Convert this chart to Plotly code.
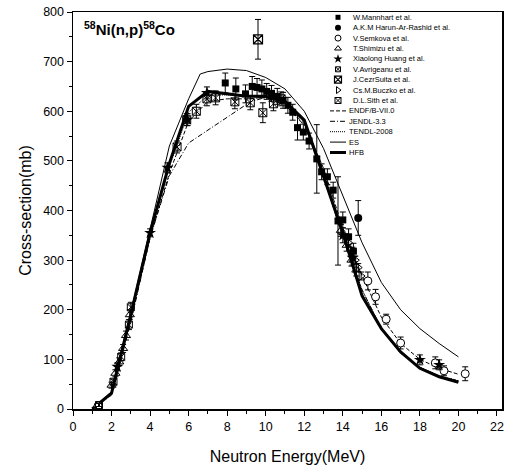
import plotly.graph_objects as go

# ---------------- data ----------------
# evaluated / calculated curves
E_grid = [1, 2, 3, 4, 5, 6, 7, 8, 9, 10, 11, 12, 13, 14, 15, 16, 17, 18, 19, 20]
HFB = [0, 32, 190, 355, 495, 610, 640, 635, 630, 630, 620, 582, 470, 355, 228, 162, 115, 82, 65, 54]
TENDL = [0, 33, 188, 352, 488, 598, 632, 633, 630, 628, 616, 578, 478, 352, 240, 163, 114, 84, 67, 57]
ENDF = [0, 30, 180, 345, 475, 580, 620, 625, 625, 628, 612, 575, 485, 365, 268, 185, 132, 100, 82, 70]
ES_E = [1, 2, 3, 4, 5, 6, 6.6, 7, 8, 9, 10, 11, 12, 13, 14, 15, 16, 17, 18, 19, 20]
ES = [0, 35, 195, 360, 530, 625, 675, 680, 685, 682, 668, 645, 600, 525, 430, 335, 255, 200, 162, 132, 105]
JENDL_E = [1, 2, 3, 4, 5, 6, 9.2, 10, 11, 12, 13, 14, 15, 16, 17, 18, 19, 20]
JENDL = [0, 28, 175, 345, 470, 536, 619, 628, 612, 572, 470, 345, 240, 162, 112, 84, 66, 57]

# experimental data
mann_E = [7.9, 8.45, 8.95, 9.3, 9.55, 9.8, 10.05, 10.3, 10.6, 10.9, 11.15, 11.4, 11.65,
          11.95, 12.25, 12.65, 12.9, 13.2, 13.5, 13.75, 14.0, 14.3, 14.55]
mann_s = [657, 645, 635, 650, 648, 645, 640, 636, 630, 622, 612, 598, 567,
          558, 540, 504, 478, 468, 441, 379, 381, 347, 318]
mann_e = [20, 22, 18, 20, 18, 18, 16, 16, 16, 16, 16, 16, 25,
          16, 16, 69, 16, 16, 16, 89, 16, 16, 16]

harun_E = [14.8]
harun_s = [385]
harun_e = [35]

semk_E = [1.3, 15.3, 15.7, 16.25, 17.0, 18.8, 19.25, 20.35]
semk_s = [6, 258, 226, 181, 133, 93, 77, 71]
semk_e = [5, 18, 15, 10, 12, 12, 10, 14]

shim_E = [2.0, 2.2, 2.4, 2.6, 2.75, 2.95, 13.9, 14.2, 14.45, 14.7]
shim_s = [48, 72, 95, 122, 148, 190, 360, 330, 300, 280]
shim_e = [6, 7, 8, 8, 9, 10, 12, 12, 12, 12]

huang_E = [2.3, 4.0, 4.9, 5.95, 6.95, 14.0, 14.5, 18.0, 19.0]
huang_s = [85, 355, 486, 583, 637, 350, 305, 99, 89]
huang_e = [8, 8, 10, 12, 12, 15, 15, 10, 10]

avri_E = [1.35, 2.1, 2.5, 2.9, 3.0]
avri_s = [8, 55, 105, 170, 205]
avri_e = [3, 5, 8, 10, 10]

cezr_E = [9.6]
cezr_s = [745]
cezr_e = [40]

bucz_E = [14.3, 14.5, 14.65, 14.8, 14.95]
bucz_s = [335, 318, 300, 285, 268]
bucz_e = [8, 8, 8, 8, 8]

sith_E = [5.4, 5.9, 6.4, 6.95, 7.4, 8.4, 9.2, 9.85, 10.4, 10.8]
sith_s = [528, 583, 600, 625, 627, 619, 617, 597, 615, 625]
sith_e = [12, 12, 14, 14, 14, 14, 14, 20, 14, 14]

legend_names = ["W.Mannhart et al.", "A.K.M Harun-Ar-Rashid et al.", "V.Semkova et al.",
                "T.Shimizu et al.", "Xiaolong Huang et al.", "V.Avrigeanu et al.",
                "J.CezrSuita et al.", "Cs.M.Buczko et al.", "D.L.Sith et al.",
                "ENDF/B-VII.0", "JENDL-3.3", "TENDL-2008", "ES", "HFB"]

FONT = "Liberation Sans, Arial, sans-serif"
NARROW = "Liberation Sans Narrow, Arial Narrow, Liberation Sans, Arial, sans-serif"

fig = go.Figure()

# ---------------- curves ----------------
curves = [
    (E_grid, ENDF, dict(color="black", width=1, dash="4px,2px")),
    (JENDL_E, JENDL, dict(color="black", width=1, dash="5px,2px,1px,2px")),
    (E_grid, TENDL, dict(color="black", width=1, dash="1px,1px")),
    (ES_E, ES, dict(color="black", width=1)),
    (E_grid, HFB, dict(color="black", width=3)),
]
for ex, ey, ln in curves:
    fig.add_trace(go.Scatter(x=ex, y=ey, mode="lines", line=ln, showlegend=False,
                             hoverinfo="skip"))

# ---------------- experiments ----------------
exps = [
    (mann_E, mann_s, mann_e, dict(symbol="square", size=7, color="black")),
    (harun_E, harun_s, harun_e, dict(symbol="circle", size=8, color="black")),
    (semk_E, semk_s, semk_e, dict(symbol="circle", size=8, color="white",
                                  line=dict(color="black", width=1))),
    (shim_E, shim_s, shim_e, dict(symbol="triangle-up-open", size=8, color="black",
                                  line=dict(width=1))),
    (huang_E, huang_s, huang_e, dict(symbol="star", size=9, color="black")),
    (avri_E, avri_s, avri_e, dict(symbol="square-x-open", size=7, color="black",
                                  line=dict(width=1))),
    (cezr_E, cezr_s, cezr_e, dict(symbol="square-x-open", size=9, color="black",
                                  line=dict(width=1.2))),
    (bucz_E, bucz_s, bucz_e, dict(symbol="triangle-right-open", size=8, color="black",
                                  line=dict(width=1))),
    (sith_E, sith_s, sith_e, dict(symbol="square-x-open", size=8, color="black",
                                  line=dict(width=1))),
]
for ex, ey, ee, mk in exps:
    fig.add_trace(go.Scatter(
        x=ex, y=ey, mode="markers", marker=mk, showlegend=False,
        error_y=dict(type="data", array=ee, color="black", thickness=1, width=3),
    ))

# ---------------- page geometry (page pixels) ----------------
W, H = 506, 469
PL, PR, PT, PB = 73, 502, 12, 409          # plot area in page pixels

# ---------------- manual legend (overlay axis in page pixels) ----------------
leg_y0, leg_dy = 17.3, 10.4
for i, name in enumerate(legend_names):
    yy = leg_y0 + i * leg_dy
    if i < len(exps):
        mk = dict(exps[i][3])
        mk["size"] = max(mk["size"] - 2, 5)
        fig.add_trace(go.Scatter(x=[338], y=[yy], mode="markers", marker=mk,
                                 xaxis="x2", yaxis="y2", showlegend=False,
                                 hoverinfo="skip"))
        tx = 351
    else:
        ln = curves[i - len(exps)][2]
        fig.add_trace(go.Scatter(x=[330, 346], y=[yy, yy], mode="lines", line=ln,
                                 xaxis="x2", yaxis="y2", showlegend=False,
                                 hoverinfo="skip"))
        tx = 347
    fig.add_annotation(x=tx, y=yy, xref="x2", yref="y2", text=name, showarrow=False,
                       xanchor="left", yanchor="middle",
                       font=dict(family=NARROW, size=7.5, color="black"))

# reaction label
fig.add_annotation(x=82, y=28, xref="x2", yref="y2",
                   text="<b><sup>58</sup>Ni(n,p)<sup>58</sup>Co</b>", showarrow=False,
                   xanchor="left", yanchor="middle",
                   font=dict(family=FONT, size=15, color="black"))

fig.update_layout(
    width=W, height=H,
    margin=dict(l=PL, r=W - PR, t=PT, b=H - PB),
    paper_bgcolor="white", plot_bgcolor="white",
    font=dict(family=FONT, color="black"),
    showlegend=False,
    xaxis=dict(
        range=[0, 22.26], tickmode="array", tickvals=list(range(0, 23, 2)),
        ticks="outside", ticklen=5, tickwidth=1, tickcolor="black",
        minor=dict(dtick=1, ticks="outside", ticklen=3, tickcolor="black", tickwidth=1),
        showline=True, linecolor="black", linewidth=1.5, mirror=True,
        showgrid=False, zeroline=False, tickfont=dict(size=12.5, family=FONT),
        ticklabeloverflow="allow",
        title=dict(text="Neutron Energy(MeV)", font=dict(size=16, family=FONT), standoff=18),
        automargin=False,
    ),
    yaxis=dict(
        range=[0, 800], dtick=100, tick0=0,
        ticks="outside", ticklen=5, tickwidth=1, tickcolor="black",
        minor=dict(dtick=50, ticks="outside", ticklen=3, tickcolor="black", tickwidth=1),
        showline=True, linecolor="black", linewidth=1.5, mirror=True,
        showgrid=False, zeroline=False, tickfont=dict(size=12.5, family=FONT),
        ticklabeloverflow="allow",
        title=dict(text="Cross-section(mb)", font=dict(size=16, family=FONT), standoff=7),
        automargin=False,
    ),
    xaxis2=dict(range=[PL, PR], overlaying="x", visible=False, fixedrange=True),
    yaxis2=dict(range=[PB, PT], overlaying="y", visible=False, fixedrange=True),
)

# remove the browser's default 8px body margin so the figure fills the window exactly
fig.write_html(
    "out.html",
    config=dict(displayModeBar=False, staticPlot=True),
    post_script="document.body.style.margin='0';document.body.style.overflow='hidden';",
)
